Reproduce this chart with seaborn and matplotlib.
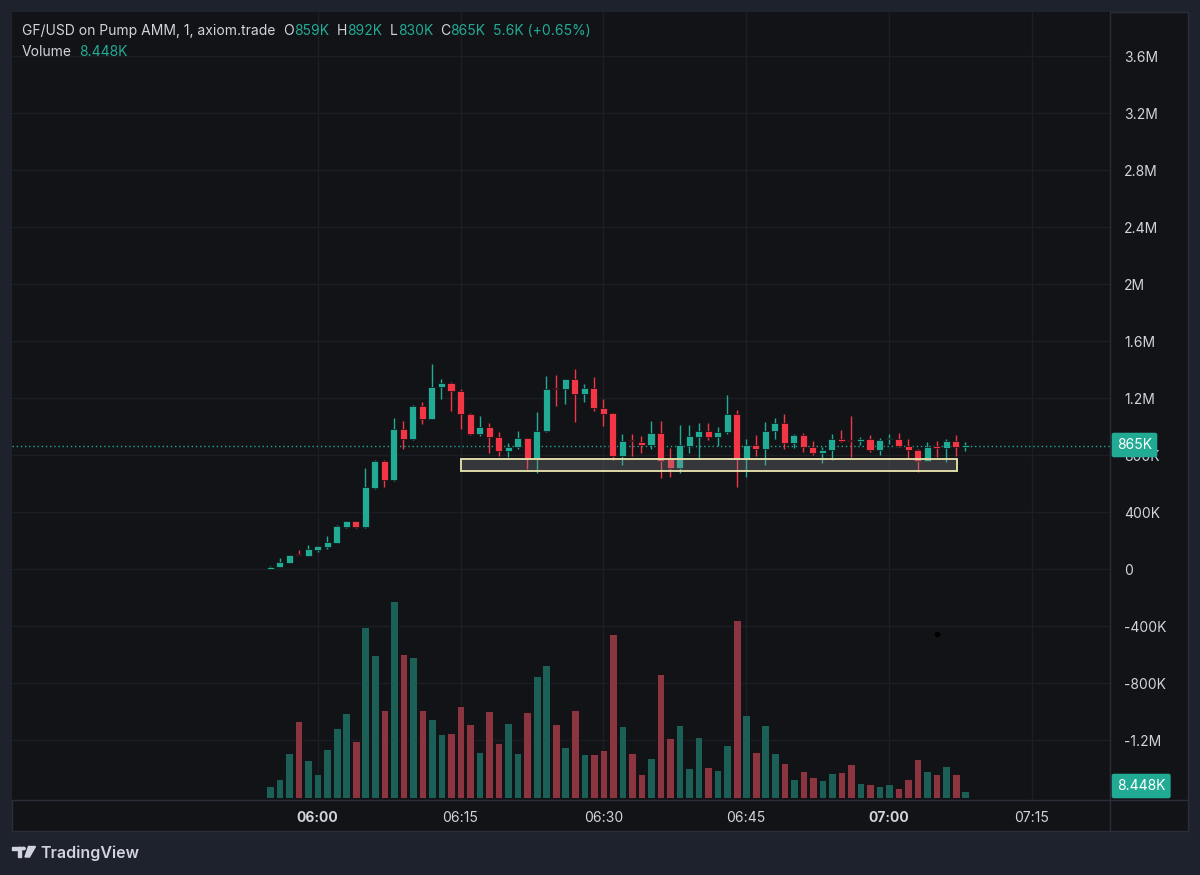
import numpy as np
import pandas as pd
import seaborn as sns
import matplotlib.pyplot as plt
from matplotlib.patches import Rectangle, Circle, Polygon
from matplotlib.lines import Line2D

# GF/USD 1-minute candles, prices and volume in K
times = pd.date_range("2025-01-01 05:55", periods=74, freq="1min")
opens = [2, 16, 44, 98, 91, 133, 152, 182, 297, 337, 292, 571, 760, 625, 982, 910, 1144, 1053, 1279, 1307,
         1251, 1088, 950, 994, 929, 830, 854, 919, 779, 971, 1265, 1260, 1331, 1226, 1268, 1128, 1092, 795, 900, 893,
         870, 957, 770, 709, 865, 929, 968, 926, 959, 1088, 772, 870, 840, 971, 1022, 887, 940, 854, 812, 835,
         912, 900, 896, 912, 835, 910, 914, 865, 835, 758, 856, 847, 900, 859]
highs = [18, 75, 98, 133, 166, 163, 232, 306, 340, 340, 711, 768, 765, 1057, 1039, 1150, 1172, 1439, 1331, 1310,
         1260, 1095, 1074, 1022, 961, 882, 968, 922, 1104, 1357, 1361, 1335, 1403, 1298, 1350, 1193, 1095, 947, 950, 933,
         1039, 1039, 851, 1008, 1008, 1027, 1027, 999, 1221, 1116, 910, 940, 1029, 1057, 1088, 950, 952, 898, 858, 945,
         975, 1074, 926, 943, 917, 945, 952, 910, 840, 893, 898, 910, 940, 892]
lows = [0, 14, 42, 95, 90, 119, 138, 180, 290, 285, 285, 565, 578, 620, 840, 905, 1020, 1050, 1191, 1111,
        980, 938, 933, 812, 795, 784, 845, 704, 676, 965, 1146, 1156, 1034, 1170, 1111, 1006, 765, 727, 790, 812,
        840, 641, 648, 676, 816, 770, 908, 863, 947, 578, 648, 793, 727, 910, 840, 852, 823, 802, 746, 765,
        893, 788, 870, 823, 800, 877, 858, 770, 683, 755, 788, 753, 793, 830]
closes = [16, 49, 96, 96, 138, 161, 189, 304, 337, 292, 578, 760, 625, 982, 910, 1144, 1053, 1279, 1307, 1251,
          1088, 950, 994, 929, 830, 854, 919, 779, 971, 1263, 1260, 1331, 1226, 1268, 1128, 1088, 795, 898, 896, 870,
          957, 758, 709, 870, 933, 968, 926, 959, 1088, 772, 870, 840, 971, 1022, 887, 940, 854, 812, 835, 912,
          898, 896, 912, 835, 905, 914, 863, 835, 758, 854, 852, 900, 859, 865]
volumes = [14.8, 24, 57, 97, 48, 30, 62, 88, 107, 72, 216, 180, 111, 248, 182, 178, 111, 100, 81, 82,
           116, 93, 58, 110, 69, 95, 57, 108, 154, 168, 93, 64, 111, 55, 55, 61, 206, 91, 57, 30,
           50, 156, 76, 92, 38, 77, 39, 35, 67, 224, 105, 58, 92, 57, 44, 24, 34, 26, 23, 32,
           33, 43, 19, 18, 15, 18, 13, 24, 49, 34, 30, 40, 30, 8.448]

time_ticks = [0, 15, 30, 45, 60, 75]          # minutes after 06:00
time_labels = ["06:00", "06:15", "06:30", "06:45", "07:00", "07:15"]
price_ticks = [-1200, -800, -400, 0, 400, 800, 1200, 1600, 2000, 2400, 2800, 3200, 3600]
price_labels = ["-1.2M", "-800K", "-400K", "0", "400K", "800K", "1.2M", "1.6M", "2M", "2.4M", "2.8M", "3.2M", "3.6M"]
title = "GF/USD on Pump AMM, 1, axiom.trade"
change_text = "5.6K (+0.65%)"
volume_text = "8.448K"
zone = {"t0": 15, "t1": 67.1, "low": 688, "high": 772}   # drawn rectangle

UP, DOWN = "#22ab94", "#f23645"
VUP, VDOWN = "#1b5f56", "#8a3540"
PANEL, OUTER = "#121317", "#1e222d"
TXT, GRID, SEP = "#d1d4dc", "#1c1e25", "#2a2e39"

W, H = 1200, 875
fx = lambda px: px / W
fy = lambda py: 1 - py / H

sns.set_theme(style="dark")
plt.rcParams["font.family"] = ["Inter", "DejaVu Sans"]

df = pd.DataFrame({"open": opens, "high": highs, "low": lows, "close": closes, "vol": volumes})
df["t"] = ((times - pd.Timestamp("2025-01-01 06:00")) / pd.Timedelta("1min")).astype(float)
df["dir"] = np.where(df["close"] >= df["open"], "up", "down")

fig = plt.figure(figsize=(12, 8.75), dpi=100)
fig.patch.set_facecolor(OUTER)
fig.add_artist(Rectangle((fx(12), fy(831)), fx(1188) - fx(12), fy(12) - fy(831),
                         transform=fig.transFigure, facecolor=PANEL, edgecolor=SEP, lw=1, zorder=-1))

ax = fig.add_axes([fx(12), fy(800), fx(1110) - fx(12), fy(12) - fy(800)])
ax.set_facecolor(PANEL)
axv = ax.twinx()

# volume overlay at the bottom
sns.barplot(data=df, x="t", y="vol", hue="dir", palette={"up": VUP, "down": VDOWN},
            native_scale=True, dodge=False, width=0.8, errorbar=None, legend=False,
            saturation=1, edgecolor="#0e0f12", linewidth=0.6, ax=axv)
axv.set_ylim(-2.5, 990)
axv.set_yticks([])
axv.set_xlabel("")
axv.set_ylabel("")
for s in axv.spines.values():
    s.set_visible(False)

# candles
cols = df["dir"].map({"up": UP, "down": DOWN}).tolist()
ax.vlines(df["t"], df["low"], df["high"], colors=cols, lw=1, zorder=3)
body_lo = np.minimum(df["open"], df["close"])
body_h = np.maximum((df["close"] - df["open"]).abs(), 9)
ax.bar(df["t"], body_h, bottom=body_lo, width=0.74, color=cols, edgecolor="#0e0f12", lw=0.5, zorder=4)

# drawn zone and last price line
ax.add_patch(Rectangle((zone["t0"], zone["low"]), zone["t1"] - zone["t0"], zone["high"] - zone["low"],
                       facecolor=(0.55, 0.55, 0.56, 0.3), edgecolor="#dedaa6", lw=1.4, zorder=5))
ax.axhline(closes[-1], color=UP, ls=(0, (1, 2)), lw=1, zorder=2)
ax.plot([65], [-456], "o", color="black", ms=3, zorder=6)

ax.set_xlim(-32.1, 83.2)
ax.set_ylim(-1621, 3909)
ax.set_xticks(time_ticks)
ax.set_xticklabels(time_labels)
ax.set_yticks(price_ticks)
ax.set_yticklabels(price_labels)
ax.yaxis.tick_right()
ax.tick_params(axis="y", length=0, pad=10, labelsize=10, labelcolor=TXT)
ax.tick_params(axis="x", length=0, pad=8, labelsize=10, labelcolor=TXT)
for lab in ax.get_xticklabels():
    if lab.get_text().endswith(":00"):
        lab.set_fontweight("bold")
ax.grid(True, color=GRID, lw=1)
for s in ax.spines.values():
    s.set_visible(False)

# separators of price / time scales
fig.add_artist(Line2D([fx(1110), fx(1110)], [fy(12), fy(831)], color=SEP, lw=1, transform=fig.transFigure))
fig.add_artist(Line2D([fx(12), fx(1188)], [fy(800), fy(800)], color=SEP, lw=1, transform=fig.transFigure))

# badges on the price scale (the last-price badge covers the 800K label, as in TradingView)
fig.text(fx(1117), fy(445), f"{closes[-1]}K", color="white", fontsize=10, va="center", ha="left",
         bbox=dict(boxstyle="round,pad=0.38,rounding_size=0.15", fc=UP, ec="none"))
fig.text(fx(1117), fy(786), volume_text, color="white", fontsize=10, va="center", ha="left",
         bbox=dict(boxstyle="round,pad=0.38,rounding_size=0.15", fc=UP, ec="none"))

# legend header
renderer = fig.canvas.get_renderer()


def put_row(x, y, parts):
    for txt, col, gap in parts:
        t = fig.text(fx(x), fy(y), txt, color=col, fontsize=10, va="center", ha="left")
        x = t.get_window_extent(renderer=renderer).x1 + gap


put_row(22, 31, [(title, TXT, 8), ("O", TXT, 0.5), (f"{opens[-1]}K", UP, 7),
                 ("H", TXT, 0.5), (f"{highs[-1]}K", UP, 7), ("L", TXT, 0.5), (f"{lows[-1]}K", UP, 7),
                 ("C", TXT, 0.5), (f"{closes[-1]}K", UP, 7), (change_text, UP, 0)])
put_row(22, 52, [("Volume", TXT, 7), (volume_text, UP, 0)])

# TradingView footer
LOGO = "#d1d4dc"
fig.add_artist(Rectangle((fx(12), fy(850)), fx(21) - fx(12), fy(846.5) - fy(850),
                         transform=fig.transFigure, color=LOGO))
fig.add_artist(Rectangle((fx(17.5), fy(857)), fx(21) - fx(17.5), fy(846.5) - fy(857),
                         transform=fig.transFigure, color=LOGO))
fig.add_artist(Circle((fx(23.5), fy(848.5)), 1.7 / W, transform=fig.transFigure, color=LOGO))
fig.add_artist(Polygon([(fx(28.5), fy(846.5)), (fx(35.5), fy(846.5)), (fx(29.5), fy(857)), (fx(25), fy(857))],
                       closed=True, transform=fig.transFigure, color=LOGO))
fig.text(fx(40), fy(853), "TradingView", color=LOGO, fontsize=11.5, fontweight="semibold", va="center", ha="left")

fig.savefig("out.png", dpi=100, facecolor=OUTER)
